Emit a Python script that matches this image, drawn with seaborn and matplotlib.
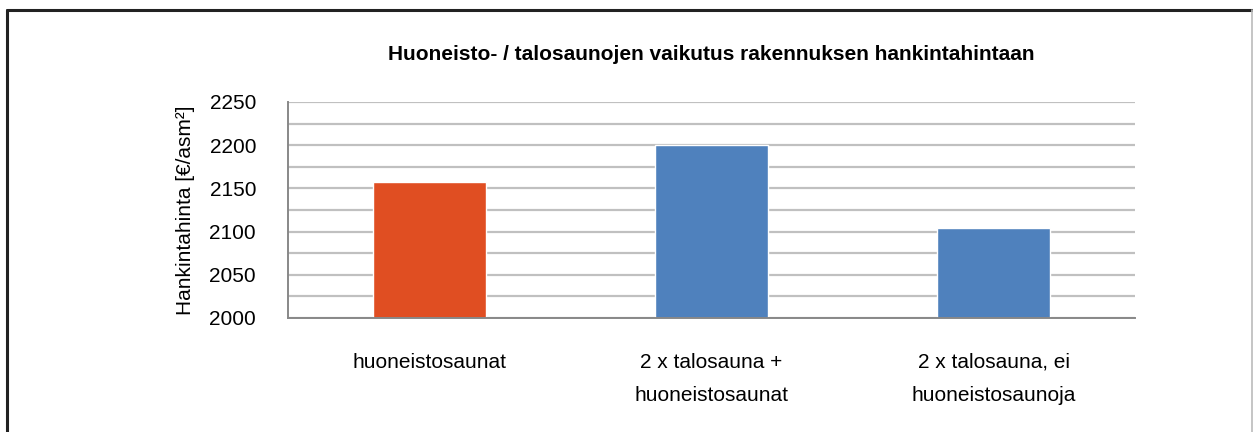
import matplotlib
matplotlib.use('Agg')
import matplotlib.pyplot as plt
import seaborn as sns
import pandas as pd
from matplotlib.lines import Line2D

categories = ['huoneistosaunat', '2 x talosauna +\nhuoneistosaunat', '2 x talosauna, ei\nhuoneistosaunoja']
values = [2157, 2200, 2104]
colors = ['#E04E22', '#4F81BD', '#4F81BD']
title = 'Huoneisto- / talosaunojen vaikutus rakennuksen hankintahintaan'
ylabel = 'Hankintahinta [€/asm²]'

df = pd.DataFrame({'cat': categories, 'val': values})

sns.set_style('white')
plt.rcParams['font.family'] = ['Liberation Sans', 'DejaVu Sans']
plt.rcParams['text.color'] = 'black'
plt.rcParams['axes.labelcolor'] = 'black'
plt.rcParams['xtick.labelcolor'] = 'black'
plt.rcParams['ytick.labelcolor'] = 'black'

fig = plt.figure(figsize=(12.53, 4.32), dpi=100)
ax = fig.add_axes([0.2299, 0.2639, 0.6759, 0.5])
sns.barplot(data=df, x='cat', y='val', hue='cat', palette=colors, legend=False,
            width=0.4, saturation=1, ax=ax)

ax.set_ylim(2000, 2250)
ax.set_xlim(-0.5, 2.5)
ax.set_yticks(range(2000, 2251, 50))
ax.set_yticks(range(2025, 2250, 50), minor=True)
ax.yaxis.grid(True, which='both', color='#c0c0c0', lw=1.6)
ax.set_axisbelow(True)
ax.tick_params(axis='y', which='major', length=8, width=1.2, color='#888888',
               labelsize=15, pad=15, labelcolor='black')
ax.tick_params(axis='y', which='minor', length=0)

ax.set_xticks([-0.5, 0.5, 1.5, 2.5])
ax.set_xticklabels([])
ax.set_xticks([0, 1, 2], minor=True)
ax.set_xticklabels(categories, minor=True, fontsize=15, linespacing=1.95, va='top',
                   color='black')
ax.tick_params(axis='x', which='major', length=8, width=1.2, color='#888888')
ax.tick_params(axis='x', which='minor', length=0, pad=25)

for s in ['top', 'right']:
    ax.spines[s].set_visible(False)
for s in ['left', 'bottom']:
    ax.spines[s].set_color('#888888')
    ax.spines[s].set_linewidth(1.4)

ax.set_xlabel('')
ax.set_ylabel(ylabel, fontsize=15, labelpad=10, color='black')
ax.set_title(title, fontsize=15, fontweight='bold', pad=30, color='black')

# outer frame
fig.add_artist(Line2D([7 / 1253, 1], [1 - 9.5 / 432] * 2, transform=fig.transFigure,
                      color='#222222', lw=2.2))
fig.add_artist(Line2D([7 / 1253] * 2, [0, 1 - 9.5 / 432], transform=fig.transFigure,
                      color='#222222', lw=2.2))
fig.add_artist(Line2D([1252 / 1253] * 2, [0, 1 - 9.5 / 432], transform=fig.transFigure,
                      color='#bbbbbb', lw=1.2))

fig.savefig('out.png', dpi=100)
